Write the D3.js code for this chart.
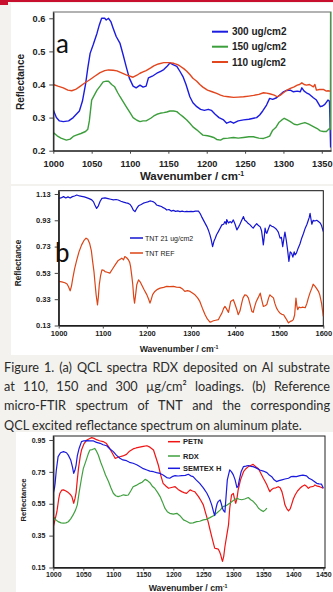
<!DOCTYPE html>
<html><head><meta charset="utf-8">
<script src="https://cdn.jsdelivr.net/npm/d3@7"></script>
<style>
html,body{margin:0;padding:0;background:#f3f2ee;}
svg{display:block;}
</style></head><body>
<svg id="chart" width="333" height="592"></svg>
<script>
// ---------- DATA ----------
const aTicksX = [1000,1050,1100,1150,1200,1250,1300,1350];
const aTicksY = [0.2,0.3,0.4,0.5,0.6];
const aLegend = ["300 ug/cm2","150 ug/cm2","110 ug/cm2"];
const a300 = [[1000,0.323],[1004,0.30],[1008,0.29],[1013,0.288],[1020,0.29],[1026,0.30],[1030,0.31],[1034,0.32],[1038,0.35],[1042,0.40],[1045,0.45],[1048,0.494],[1052,0.52],[1057,0.555],[1060,0.58],[1063,0.60],[1067,0.60],[1069,0.595],[1072,0.60],[1075,0.59],[1078,0.57],[1082,0.545],[1087,0.524],[1091,0.49],[1095,0.454],[1099,0.42],[1104,0.395],[1108,0.39],[1113,0.398],[1117,0.392],[1121,0.395],[1124,0.42],[1129,0.425],[1135,0.434],[1140,0.44],[1144,0.445],[1148,0.454],[1152,0.465],[1156,0.46],[1161,0.455],[1165,0.44],[1169,0.424],[1173,0.40],[1178,0.363],[1182,0.345],[1187,0.333],[1192,0.325],[1197,0.322],[1202,0.325],[1206,0.322],[1211,0.31],[1216,0.30],[1222,0.293],[1226,0.283],[1231,0.288],[1235,0.283],[1241,0.29],[1248,0.293],[1255,0.295],[1261,0.298],[1265,0.30],[1269,0.308],[1273,0.32],[1278,0.338],[1282,0.358],[1286,0.355],[1291,0.36],[1296,0.37],[1300,0.378],[1304,0.382],[1309,0.383],[1313,0.378],[1318,0.38],[1322,0.378],[1324,0.39],[1327,0.38],[1330,0.375],[1334,0.37],[1339,0.36],[1343,0.353],[1348,0.333],[1351,0.335],[1354,0.34],[1358,0.353],[1360,0.35],[1361.5,0.21]];
const a150 = [[1000,0.255],[1005,0.245],[1010,0.238],[1017,0.232],[1022,0.235],[1026,0.243],[1030,0.247],[1036,0.252],[1042,0.258],[1045,0.265],[1047,0.29],[1050,0.353],[1054,0.37],[1057,0.383],[1061,0.395],[1065,0.408],[1069,0.41],[1072,0.41],[1076,0.40],[1080,0.393],[1084,0.375],[1087,0.363],[1091,0.348],[1095,0.333],[1100,0.315],[1104,0.30],[1109,0.292],[1113,0.288],[1117,0.29],[1121,0.29],[1127,0.298],[1131,0.305],[1135,0.31],[1139,0.313],[1144,0.315],[1148,0.317],[1152,0.32],[1157,0.32],[1161,0.318],[1165,0.31],[1169,0.303],[1174,0.293],[1178,0.283],[1182,0.272],[1187,0.263],[1191,0.255],[1195,0.247],[1201,0.245],[1205,0.243],[1209,0.24],[1213,0.234],[1218,0.232],[1222,0.237],[1228,0.238],[1235,0.24],[1241,0.238],[1248,0.24],[1255,0.242],[1261,0.242],[1268,0.238],[1274,0.237],[1278,0.24],[1282,0.244],[1286,0.262],[1290,0.27],[1294,0.285],[1298,0.293],[1301,0.298],[1305,0.293],[1309,0.288],[1314,0.28],[1318,0.278],[1323,0.282],[1328,0.285],[1333,0.28],[1339,0.273],[1344,0.267],[1348,0.26],[1352,0.258],[1356,0.258],[1360,0.267],[1361.2,0.265],[1361.5,0.63]];
const a110 = [[1000,0.40],[1006,0.395],[1013,0.39],[1019,0.383],[1024,0.381],[1029,0.385],[1034,0.393],[1040,0.403],[1048,0.415],[1054,0.425],[1061,0.436],[1067,0.442],[1072,0.444],[1078,0.443],[1083,0.441],[1089,0.435],[1095,0.429],[1100,0.425],[1104,0.422],[1109,0.428],[1113,0.434],[1117,0.438],[1121,0.442],[1127,0.45],[1131,0.456],[1137,0.462],[1144,0.466],[1150,0.466],[1157,0.464],[1162,0.46],[1165,0.456],[1170,0.448],[1174,0.44],[1178,0.43],[1182,0.419],[1187,0.41],[1191,0.40],[1195,0.392],[1201,0.383],[1207,0.378],[1213,0.373],[1218,0.368],[1222,0.365],[1228,0.363],[1235,0.361],[1241,0.362],[1248,0.363],[1255,0.365],[1261,0.367],[1268,0.37],[1274,0.375],[1278,0.374],[1282,0.372],[1288,0.368],[1292,0.363],[1296,0.368],[1300,0.375],[1304,0.382],[1309,0.388],[1314,0.393],[1318,0.398],[1321,0.40],[1324,0.405],[1327,0.40],[1330,0.398],[1334,0.40],[1339,0.393],[1341,0.40],[1343,0.383],[1347,0.385],[1352,0.385],[1356,0.38],[1358,0.381],[1361,0.38]];

const bTicksX = [1000,1100,1200,1300,1400,1500,1600];
const bTicksY = [0.13,0.33,0.53,0.73,0.93,1.13];
const bLegend = ["TNT 21 ug/cm2","TNT REF"];
const bTnt21 = [[1000,1.097],[1005,1.10],[1011,1.11],[1016,1.10],[1021,1.108],[1026,1.10],[1031,1.11],[1036,1.115],[1041,1.122],[1047,1.115],[1052,1.112],[1058,1.108],[1063,1.102],[1069,1.095],[1075,1.085],[1079,1.07],[1082,1.046],[1086,1.02],[1090,1.04],[1094,1.075],[1098,1.097],[1105,1.10],[1112,1.095],[1118,1.09],[1124,1.085],[1130,1.088],[1135,1.084],[1141,1.075],[1147,1.068],[1153,1.062],[1158,1.058],[1162,1.05],[1166,1.03],[1169,1.008],[1173,0.996],[1177,1.02],[1181,1.04],[1187,1.05],[1192,1.06],[1197,1.065],[1202,1.07],[1207,1.077],[1211,1.075],[1215,1.07],[1219,1.06],[1222,1.046],[1228,1.04],[1233,1.035],[1237,1.026],[1241,1.02],[1245,1.008],[1250,1.012],[1255,1.0],[1260,1.005],[1265,0.998],[1270,1.002],[1275,0.996],[1280,1.0],[1285,0.995],[1290,0.998],[1295,0.996],[1300,0.998],[1305,0.996],[1310,1.0],[1317,1.0],[1321,0.98],[1324,0.958],[1330,0.92],[1336,0.882],[1340,0.85],[1343,0.819],[1346,0.78],[1349,0.73],[1352,0.77],[1355,0.794],[1358,0.82],[1362,0.844],[1366,0.87],[1370,0.895],[1374,0.9],[1377,0.92],[1380,0.9],[1381,0.935],[1385,0.91],[1389,0.92],[1392,0.91],[1396,0.933],[1400,0.9],[1404,0.857],[1408,0.88],[1411,0.9],[1415,0.93],[1419,0.958],[1422,0.93],[1426,0.92],[1430,0.905],[1434,0.895],[1438,0.88],[1441,0.87],[1445,0.89],[1449,0.905],[1453,0.89],[1457,0.88],[1460,0.85],[1462,0.80],[1464,0.743],[1466,0.80],[1468,0.87],[1470,0.84],[1472,0.831],[1475,0.86],[1479,0.895],[1483,0.885],[1487,0.88],[1491,0.87],[1494,0.86],[1498,0.84],[1502,0.794],[1505,0.80],[1508,0.73],[1511,0.80],[1513,0.84],[1516,0.78],[1519,0.705],[1522,0.617],[1525,0.69],[1528,0.68],[1531,0.65],[1534,0.69],[1536,0.667],[1539,0.68],[1543,0.718],[1547,0.75],[1551,0.794],[1555,0.83],[1559,0.87],[1563,0.9],[1566,0.93],[1568,0.95],[1570,0.983],[1572,0.94],[1574,0.90],[1577,0.93],[1581,0.925],[1585,0.93],[1589,0.92],[1593,0.91],[1596,0.89],[1600,0.844]];
const bTntRef = [[1000,0.465],[1007,0.462],[1014,0.455],[1019,0.445],[1022,0.427],[1026,0.394],[1029,0.43],[1032,0.49],[1036,0.56],[1041,0.629],[1046,0.69],[1052,0.743],[1057,0.775],[1062,0.794],[1066,0.785],[1070,0.756],[1074,0.70],[1077,0.616],[1080,0.54],[1082,0.465],[1085,0.36],[1088,0.287],[1090,0.35],[1092,0.44],[1095,0.51],[1098,0.553],[1102,0.55],[1105,0.54],[1110,0.535],[1116,0.528],[1122,0.56],[1128,0.591],[1135,0.625],[1143,0.642],[1147,0.63],[1150,0.654],[1154,0.645],[1158,0.63],[1161,0.61],[1163,0.578],[1166,0.50],[1168,0.44],[1170,0.35],[1172,0.30],[1175,0.38],[1177,0.44],[1181,0.477],[1185,0.46],[1188,0.44],[1194,0.40],[1200,0.363],[1204,0.33],[1207,0.30],[1210,0.33],[1213,0.365],[1218,0.389],[1224,0.405],[1230,0.414],[1238,0.42],[1245,0.427],[1252,0.425],[1260,0.427],[1267,0.422],[1275,0.42],[1280,0.41],[1286,0.389],[1292,0.395],[1298,0.389],[1304,0.375],[1309,0.363],[1315,0.34],[1320,0.313],[1326,0.26],[1332,0.212],[1337,0.18],[1343,0.156],[1347,0.16],[1351,0.166],[1356,0.17],[1362,0.174],[1366,0.2],[1370,0.224],[1374,0.26],[1377,0.275],[1380,0.26],[1385,0.23],[1388,0.28],[1390,0.313],[1393,0.32],[1396,0.326],[1400,0.29],[1404,0.25],[1407,0.212],[1411,0.24],[1415,0.30],[1418,0.34],[1422,0.363],[1426,0.36],[1430,0.34],[1434,0.29],[1438,0.237],[1441,0.23],[1444,0.27],[1448,0.313],[1452,0.34],[1457,0.376],[1460,0.33],[1464,0.275],[1468,0.28],[1472,0.29],[1476,0.34],[1479,0.363],[1483,0.35],[1487,0.34],[1490,0.30],[1494,0.262],[1498,0.24],[1502,0.224],[1506,0.215],[1510,0.212],[1514,0.19],[1517,0.174],[1521,0.15],[1525,0.161],[1529,0.165],[1532,0.175],[1535,0.21],[1538,0.338],[1540,0.28],[1542,0.25],[1545,0.27],[1549,0.265],[1553,0.27],[1559,0.265],[1563,0.30],[1566,0.338],[1570,0.38],[1574,0.414],[1577,0.444],[1581,0.43],[1585,0.41],[1589,0.39],[1592,0.363],[1596,0.30],[1600,0.199]];

const cTicksX = [1000,1050,1100,1150,1200,1250,1300,1350,1400,1450];
const cTicksY = [0.15,0.35,0.55,0.75,0.95];
const cLegend = ["PETN","RDX","SEMTEX H"];
const cPetn = [[1000,0.407],[1003,0.45],[1006,0.50],[1009,0.58],[1011,0.616],[1014,0.635],[1017,0.637],[1021,0.63],[1025,0.62],[1028,0.61],[1031,0.595],[1034,0.553],[1036,0.58],[1038,0.62],[1040,0.70],[1042,0.772],[1045,0.85],[1047,0.887],[1051,0.925],[1056,0.95],[1060,0.958],[1064,0.965],[1068,0.96],[1072,0.952],[1077,0.945],[1083,0.94],[1088,0.93],[1094,0.897],[1098,0.87],[1103,0.835],[1107,0.84],[1111,0.845],[1116,0.85],[1122,0.86],[1127,0.88],[1133,0.894],[1138,0.9],[1144,0.905],[1150,0.91],[1156,0.914],[1161,0.905],[1167,0.887],[1171,0.84],[1175,0.793],[1179,0.73],[1183,0.678],[1188,0.66],[1192,0.647],[1197,0.652],[1203,0.657],[1208,0.64],[1214,0.626],[1218,0.62],[1222,0.615],[1228,0.637],[1232,0.63],[1236,0.625],[1242,0.595],[1246,0.57],[1250,0.543],[1254,0.49],[1258,0.438],[1261,0.39],[1264,0.344],[1267,0.3],[1269,0.271],[1272,0.268],[1275,0.265],[1277,0.25],[1279,0.229],[1281,0.20],[1282,0.188],[1284,0.22],[1286,0.28],[1289,0.35],[1292,0.417],[1294,0.52],[1297,0.605],[1300,0.615],[1302,0.58],[1304,0.553],[1306,0.58],[1308,0.635],[1312,0.70],[1317,0.751],[1321,0.77],[1325,0.783],[1329,0.79],[1333,0.797],[1338,0.78],[1342,0.77],[1346,0.74],[1350,0.71],[1353,0.69],[1356,0.668],[1359,0.64],[1361,0.626],[1364,0.64],[1367,0.647],[1371,0.65],[1375,0.657],[1378,0.65],[1381,0.626],[1384,0.58],[1386,0.543],[1389,0.52],[1392,0.505],[1395,0.52],[1397,0.543],[1400,0.58],[1403,0.605],[1407,0.63],[1411,0.647],[1415,0.66],[1419,0.668],[1422,0.66],[1425,0.647],[1428,0.655],[1431,0.657],[1434,0.66],[1436,0.668],[1440,0.66],[1444,0.657],[1447,0.652],[1450,0.647]];
const cRdx = [[1000,0.47],[1004,0.45],[1008,0.438],[1013,0.43],[1017,0.428],[1021,0.43],[1025,0.437],[1029,0.455],[1033,0.48],[1037,0.51],[1040,0.543],[1043,0.62],[1047,0.71],[1050,0.77],[1054,0.814],[1058,0.86],[1061,0.887],[1065,0.89],[1069,0.897],[1072,0.88],[1075,0.856],[1079,0.81],[1083,0.772],[1087,0.73],[1092,0.689],[1096,0.65],[1100,0.616],[1104,0.60],[1108,0.595],[1113,0.60],[1117,0.606],[1121,0.603],[1125,0.605],[1129,0.63],[1133,0.657],[1138,0.665],[1144,0.678],[1148,0.685],[1153,0.703],[1157,0.695],[1161,0.682],[1165,0.66],[1169,0.647],[1174,0.62],[1178,0.595],[1182,0.56],[1186,0.522],[1190,0.5],[1194,0.49],[1200,0.485],[1206,0.49],[1211,0.475],[1217,0.449],[1222,0.44],[1228,0.428],[1233,0.43],[1239,0.438],[1244,0.44],[1250,0.449],[1255,0.452],[1261,0.463],[1267,0.475],[1272,0.49],[1278,0.51],[1283,0.532],[1289,0.54],[1294,0.553],[1300,0.57],[1306,0.584],[1310,0.578],[1314,0.575],[1319,0.58],[1325,0.589],[1329,0.575],[1333,0.565],[1338,0.545],[1342,0.522],[1346,0.51],[1350,0.501],[1353,0.51],[1356,0.522]];
const cSemtex = [[1000,0.616],[1002,0.65],[1003,0.678],[1005,0.76],[1008,0.846],[1012,0.87],[1017,0.877],[1022,0.87],[1025,0.855],[1029,0.825],[1032,0.78],[1034,0.741],[1036,0.76],[1038,0.793],[1040,0.85],[1043,0.897],[1047,0.94],[1051,0.945],[1056,0.946],[1061,0.945],[1067,0.944],[1072,0.935],[1078,0.929],[1083,0.92],[1089,0.914],[1094,0.895],[1100,0.877],[1105,0.855],[1111,0.835],[1116,0.825],[1122,0.82],[1127,0.81],[1133,0.804],[1139,0.795],[1144,0.783],[1150,0.77],[1156,0.762],[1161,0.755],[1167,0.751],[1172,0.745],[1178,0.74],[1183,0.73],[1189,0.714],[1194,0.71],[1198,0.72],[1203,0.726],[1208,0.724],[1214,0.726],[1220,0.728],[1225,0.735],[1229,0.725],[1233,0.72],[1238,0.70],[1244,0.678],[1250,0.65],[1256,0.616],[1260,0.585],[1264,0.543],[1267,0.50],[1269,0.476],[1271,0.52],[1273,0.55],[1275,0.565],[1278,0.574],[1280,0.55],[1282,0.52],[1284,0.505],[1286,0.497],[1288,0.60],[1290,0.70],[1294,0.762],[1297,0.75],[1300,0.731],[1303,0.70],[1306,0.651],[1308,0.66],[1310,0.7],[1313,0.75],[1317,0.783],[1321,0.786],[1325,0.79],[1329,0.785],[1333,0.783],[1338,0.775],[1344,0.762],[1350,0.755],[1356,0.745],[1360,0.73],[1364,0.72],[1368,0.70],[1372,0.689],[1376,0.695],[1381,0.70],[1386,0.705],[1392,0.71],[1396,0.72],[1400,0.722],[1405,0.72],[1411,0.726],[1416,0.73],[1422,0.725],[1426,0.71],[1431,0.70],[1435,0.69],[1439,0.678],[1443,0.675],[1447,0.673],[1450,0.647]];

const captionLines = [
  "Figure 1. (a) QCL spectra RDX deposited on Al substrate",
  "at 110, 150 and 300 \u00b5g/cm\u00b2 loadings. (b) Reference",
  "micro-FTIR spectrum of TNT and the corresponding",
  "QCL excited reflectance spectrum on aluminum plate."
];

// ---------- DRAW ----------
const svg = d3.select("#chart");
const BOLD = "'Liberation Sans', Arial, sans-serif";
svg.append("rect").attr("width",333).attr("height",592).attr("fill","#f3f2ee");
svg.append("rect").attr("x",11).attr("y",3).attr("width",322).attr("height",181).attr("fill","#fff");
svg.append("rect").attr("x",11).attr("y",186).attr("width",322).attr("height",169).attr("fill","#fff");
svg.append("rect").attr("x",16).attr("y",432).attr("width",317).attr("height",160).attr("fill","#fff");
svg.append("rect").attr("x",0).attr("y",0).attr("width",333).attr("height",2).attr("fill","#c8102e");
svg.append("rect").attr("x",0).attr("y",0).attr("width",8).attr("height",5).attr("fill","#c8102e");

function panel(cfg, id) {
  const x = d3.scaleLinear().domain(cfg.xd).range(cfg.xr);
  const y = d3.scaleLinear().domain(cfg.yd).range(cfg.yr);
  const g = svg.append("g");
  const [x0,x1] = cfg.xr, [y0,y1] = cfg.yr;
  g.append("clipPath").attr("id","clip"+id).append("rect")
    .attr("x",x0).attr("y",y1).attr("width",x1-x0).attr("height",y0-y1);
  g.append("rect").attr("x",x0).attr("y",y1).attr("width",x1-x0).attr("height",y0-y1)
    .attr("fill","none").attr("stroke",cfg.frame).attr("stroke-width",1);
  const line = d3.line().x(d=>x(d[0])).y(d=>y(d[1]));
  const lg = g.append("g").attr("clip-path","url(#clip"+id+")");
  cfg.series.forEach(s=>{
    lg.append("path").datum(s.data).attr("d",line).attr("fill","none")
      .attr("stroke",s.color).attr("stroke-width",cfg.sw).attr("stroke-linejoin","round");
  });
  const ax = g.append("g").attr("transform",`translate(0,${y0})`)
    .call(d3.axisBottom(x).tickValues(cfg.xt).tickSize(3).tickSizeOuter(0).tickPadding(cfg.xpad).tickFormat(d3.format("d")));
  const ay = g.append("g").attr("transform",`translate(${x0},0)`)
    .call(d3.axisLeft(y).tickValues(cfg.yt).tickSize(4).tickSizeOuter(0).tickPadding(4).tickFormat(d3.format(cfg.yf)));
  [ax,ay].forEach(a=>{
    a.select(".domain").attr("stroke","#222").attr("stroke-width",1.3);
    a.selectAll(".tick line").attr("stroke","#444");
    a.selectAll("text").attr("font-family",BOLD).attr("font-weight","bold")
      .attr("font-size",cfg.tfs).attr("fill","#222");
  });
  const xt = g.append("text").attr("x",cfg.xtx).attr("y",cfg.xty).attr("text-anchor","middle")
    .attr("font-family",BOLD).attr("font-weight","bold").attr("font-size",cfg.xtfs).attr("fill","#222");
  xt.append("tspan").text("Wavenumber / cm");
  xt.append("tspan").attr("dy",-cfg.xtfs*0.3).attr("font-size",cfg.xtfs*0.6).text("-1");
  g.append("text").attr("transform",`translate(${cfg.ytx},${cfg.yty}) rotate(-90)`)
    .attr("text-anchor","middle").attr("font-family",BOLD).attr("font-weight","bold")
    .attr("font-size",cfg.ytfs).attr("fill","#222").text("Reflectance");
  cfg.series.forEach((s,i)=>{
    const ry = cfg.lg.y[i];
    g.append("line").attr("x1",cfg.lg.x1).attr("x2",cfg.lg.x2).attr("y1",ry).attr("y2",ry)
      .attr("stroke",s.color).attr("stroke-width",cfg.lg.sw);
    g.append("text").attr("x",cfg.lg.tx).attr("y",ry+cfg.lg.fs*0.36)
      .attr("font-family",BOLD).attr("font-weight",cfg.lg.fw).attr("font-size",cfg.lg.fs)
      .attr("fill","#222").text(s.name);
  });
  if (cfg.letter) g.append("text").attr("x",cfg.letter.x).attr("y",cfg.letter.y)
    .attr("font-family","Lato, 'Open Sans', sans-serif").attr("font-size",cfg.letter.fs)
    .attr("fill","#111").text(cfg.letter.t);
}

panel({
  xd:[1000,1362], xr:[53.3,331], yd:[0.2,0.619], yr:[150.7,12],
  xt:aTicksX, yt:aTicksY, yf:".1f", tfs:9.2, xpad:6.5, frame:"#666", sw:1.4,
  xtx:192, xty:179.5, xtfs:11.5, ytx:24, yty:82, ytfs:10,
  series:[{name:aLegend[0],data:a300,color:"#1c1ce0"},{name:aLegend[1],data:a150,color:"#3c9e3c"},{name:aLegend[2],data:a110,color:"#e2461e"}],
  lg:{x1:212,x2:228,tx:232,y:[31.7,46.7,62],fs:10,fw:"bold",sw:2},
  letter:{t:"a",x:56,y:52.5,fs:26}
},"a");

panel({
  xd:[1000,1600], xr:[58.7,323.3], yd:[0.13,1.155], yr:[325.5,190.7],
  xt:bTicksX, yt:bTicksY, yf:".2f", tfs:7.5, xpad:2, frame:"#111", sw:1.2,
  xtx:179, xty:351.5, xtfs:8.7, ytx:21, yty:263, ytfs:8.3,
  series:[{name:bLegend[0],data:bTnt21,color:"#1414d2"},{name:bLegend[1],data:bTntRef,color:"#dc4416"}],
  lg:{x1:130,x2:143,tx:145,y:[238,253],fs:7,fw:"normal",sw:1.5},
  letter:{t:"b",x:55,y:261.7,fs:26}
},"b");

panel({
  xd:[1000,1452.8], xr:[53.3,325], yd:[0.15,0.975], yr:[567.5,436],
  xt:cTicksX, yt:cTicksY, yf:".2f", tfs:7, xpad:2, frame:"#222", sw:1.2,
  xtx:188, xty:590.5, xtfs:8.7, ytx:25.5, yty:500, ytfs:7.7,
  series:[{name:cLegend[0],data:cPetn,color:"#f01414"},{name:cLegend[1],data:cRdx,color:"#40a040"},{name:cLegend[2],data:cSemtex,color:"#1a1ae0"}],
  lg:{x1:168,x2:180,tx:183,y:[441.7,456,468.3],fs:7.5,fw:"bold",sw:1.5},
  letter:null
},"c");

// caption
const capY = [371.7,391.1,410.5,429.9];
const capG = svg.append("g");
const texts = captionLines.map((t,i)=>capG.append("text").attr("x",0).attr("y",capY[i])
  .attr("font-family","Lato, 'Open Sans', sans-serif").attr("font-size",14).attr("fill","#2a2a2a").text(t));
const nat4 = texts[3].node().getComputedTextLength();
const sx = Math.min(1, 298/nat4);
capG.attr("transform",`translate(4,0) scale(${sx},1)`);
texts.slice(0,3).forEach((t,i)=>{
  const nat = t.node().getComputedTextLength();
  const spaces = (captionLines[i].match(/ /g)||[]).length;
  t.attr("word-spacing",((326/sx)-nat)/spaces);
});
</script>
</body></html>
